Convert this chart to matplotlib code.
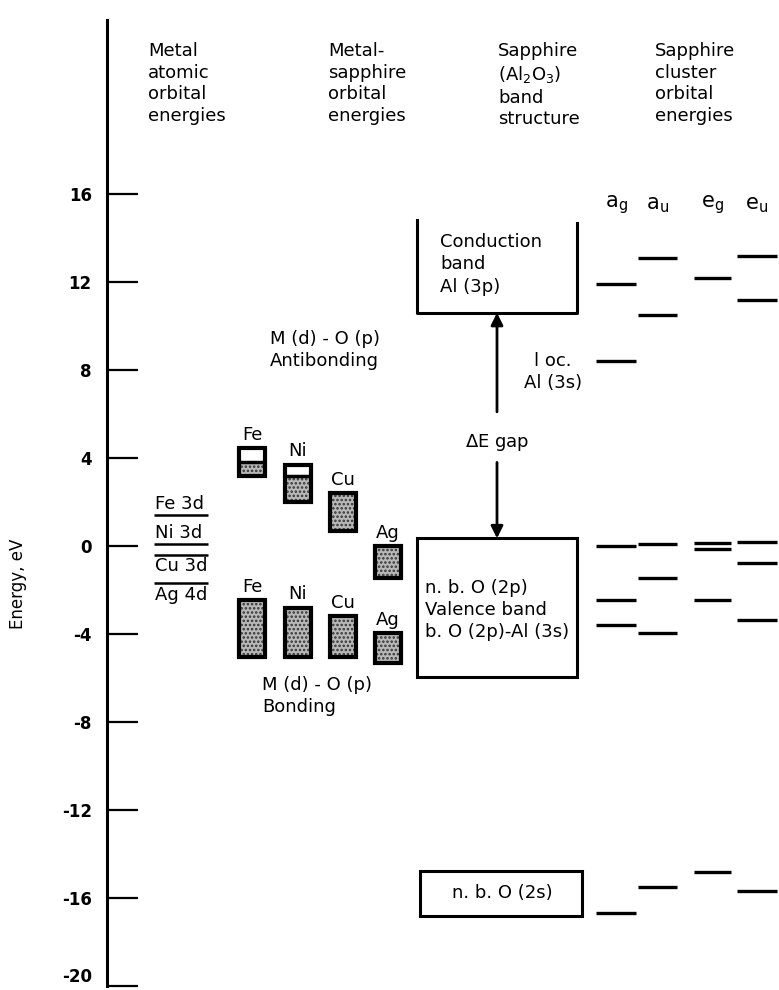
import matplotlib
matplotlib.use("Agg")
import matplotlib.pyplot as plt
from matplotlib.patches import Rectangle

plt.rcParams['font.family'] = ['DejaVu Sans']
plt.rcParams['hatch.color'] = '#333333'
plt.rcParams['hatch.linewidth'] = 1.2

# --- data (energies in eV) ---
yticks = [-20, -16, -12, -8, -4, 0, 4, 8, 12, 16]

# metal atomic orbital energies
atomic_labels = ['Fe 3d', 'Ni 3d', 'Cu 3d', 'Ag 4d']
atomic_E = [1.4, 0.1, -0.4, -1.7]
atomic_label_above = [True, True, False, False]

# metal-sapphire orbital energies
ms_metals = ['Fe', 'Ni', 'Cu', 'Ag']
anti_top = [4.45, 3.7, 2.4, 0.0]
anti_bot = [3.2, 2.0, 0.7, -1.45]
anti_split = [3.8, 3.2, None, None]   # empty above, stippled below
bond_top = [-2.45, -2.8, -3.2, -3.95]
bond_bot = [-5.05, -5.05, -5.05, -5.3]

# sapphire band structure
conduction = (10.6, 14.8)
valence = (-5.95, 0.35)
o2s = (-16.8, -14.75)
loc_al3s = 8.4

# sapphire cluster orbital energies
cluster_names = [r'a$_\mathrm{g}$', r'a$_\mathrm{u}$', r'e$_\mathrm{g}$', r'e$_\mathrm{u}$']
cluster_levels = [
    [11.9, loc_al3s, 0.0, -2.45, -3.6, -16.7],
    [13.1, 10.5, 0.1, -1.45, -3.95, -15.5],
    [12.2, 0.12, -0.12, -2.45, -14.8],
    [13.2, 11.2, 0.2, -0.75, -3.35, -15.7],
]

# --- layout ---
fig = plt.figure(figsize=(7.79, 9.9), dpi=100)
ax = fig.add_axes([0, 0, 1, 1])
ax.set_xlim(0, 779)
ax.set_ylim(-20.18, 24.82)

for s in ['top', 'right', 'bottom']:
    ax.spines[s].set_visible(False)
ax.spines['left'].set_position(('data', 107))
ax.spines['left'].set_bounds(-20, 23.9)
ax.spines['left'].set_linewidth(2.2)
ax.set_xticks([])
ax.set_yticks(yticks)
ax.set_yticklabels([str(t) for t in yticks], fontsize=12, fontweight='bold')
ax.tick_params(axis='y', direction='in', length=22, width=1.6, pad=11)
ax.get_yticklabels()[0].set_va('bottom')
ax.text(18, -1.7, 'Energy, eV', rotation=90, ha='center', va='center', fontsize=12)

fs = 13
heads = [(148, 'Metal\natomic\norbital\nenergies'),
         (328, 'Metal-\nsapphire\norbital\nenergies'),
         (498, 'Sapphire\n(Al$_2$O$_3$)\nband\nstructure'),
         (655, 'Sapphire\ncluster\norbital\nenergies')]
for x, t in heads:
    ax.text(x, 22.9, t, ha='left', va='top', fontsize=fs, linespacing=1.25)

# metal atomic levels
for lab, e, above in zip(atomic_labels, atomic_E, atomic_label_above):
    ax.hlines(e, 154, 208, color='black', lw=1.8)
    if above:
        ax.text(155, e + 0.1, lab, ha='left', va='bottom', fontsize=fs)
    else:
        ax.text(155, e - 0.1, lab, ha='left', va='top', fontsize=fs)

# metal-sapphire boxes
box_x = [239, 285, 330, 375]
bw = 26


def stipple(x0, y0, y1):
    ax.add_patch(Rectangle((x0, y0), bw, y1 - y0, facecolor='#b8b8b8',
                           hatch='....', lw=0))


def frame(x0, y0, y1):
    ax.add_patch(Rectangle((x0, y0), bw, y1 - y0, fill=False,
                           edgecolor='black', lw=3))


for m, x0, t, b, sp in zip(ms_metals, box_x, anti_top, anti_bot, anti_split):
    if sp is None:
        stipple(x0, b, t)
    else:
        stipple(x0, b, sp)
        ax.hlines(sp, x0, x0 + bw, color='black', lw=2.5)
    frame(x0, b, t)
    ax.text(x0 + bw / 2, t + 0.2, m, ha='center', va='bottom', fontsize=fs)

for m, x0, t, b in zip(ms_metals, box_x, bond_top, bond_bot):
    stipple(x0, b, t)
    frame(x0, b, t)
    ax.text(x0 + bw / 2, t + 0.2, m, ha='center', va='bottom', fontsize=fs)

ax.text(270, 8.9, 'M (d) - O (p)\nAntibonding', ha='left', va='center',
        fontsize=fs, linespacing=1.3)
ax.text(262, -6.8, 'M (d) - O (p)\nBonding', ha='left', va='center',
        fontsize=fs, linespacing=1.3)

# sapphire band structure
bx0, bx1 = 417, 577
ax.plot([bx0, bx0, bx1, bx1], [conduction[1], conduction[0], conduction[0],
                                conduction[1] - 0.1], color='black', lw=2.2)
ax.text(440, 12.8, 'Conduction\nband\nAl (3p)', ha='left', va='center',
        fontsize=fs, linespacing=1.3)
ax.add_patch(Rectangle((bx0, valence[0]), bx1 - bx0, valence[1] - valence[0],
                       fill=False, edgecolor='black', lw=2.2))
ax.text(425, -2.9, 'n. b. O (2p)\nValence band\nb. O (2p)-Al (3s)', ha='left',
        va='center', fontsize=fs, linespacing=1.3)
ax.add_patch(Rectangle((bx0 + 3, o2s[0]), bx1 - bx0 + 2, o2s[1] - o2s[0],
                       fill=False, edgecolor='black', lw=2.2))
ax.text(502, sum(o2s) / 2, 'n. b. O (2s)', ha='center', va='center', fontsize=fs)

gap_x = 497
ax.annotate('', xy=(gap_x, conduction[0]), xytext=(gap_x, 6.1),
            arrowprops=dict(arrowstyle='-|>', color='black', lw=2,
                            mutation_scale=18, shrinkA=0, shrinkB=0))
ax.annotate('', xy=(gap_x, valence[1]), xytext=(gap_x, 3.8),
            arrowprops=dict(arrowstyle='-|>', color='black', lw=2,
                            mutation_scale=18, shrinkA=0, shrinkB=0))
ax.text(gap_x, 4.7, r'$\Delta$E gap', ha='center', va='center', fontsize=fs)
ax.text(553, 7.9, 'l oc.\nAl (3s)', ha='center', va='center', fontsize=fs,
        linespacing=1.3)

# sapphire cluster levels
col_x = [(596, 636), (638, 677), (694, 731), (737, 777)]
for name, (x0, x1), levels in zip(cluster_names, col_x, cluster_levels):
    ax.hlines(levels, x0, x1, color='black', lw=2.4)
    ax.text((x0 + x1) / 2, 15.5, name, ha='center', va='center', fontsize=15)

fig.savefig('out.png', dpi=100)
